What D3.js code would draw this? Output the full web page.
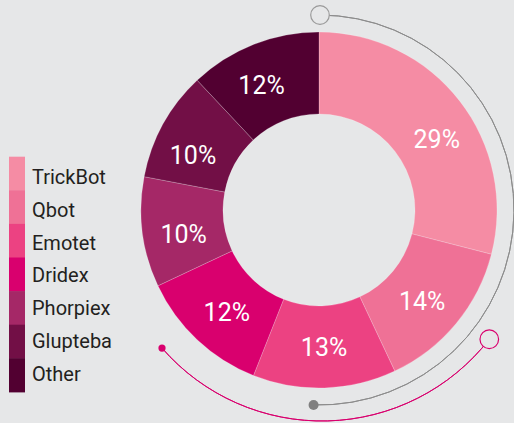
<!DOCTYPE html>
<html>
<head>
<meta charset="utf-8">
<script src="https://cdn.jsdelivr.net/npm/d3@7.9.0/dist/d3.min.js"></script>
<style>
  html, body { margin: 0; padding: 0; background: #e6e7e8; }
  svg { display: block; font-family: Roboto, "DejaVu Sans", sans-serif; }
</style>
</head>
<body>
<svg id="chart" width="514" height="423"></svg>
<script>
// chart data
const families = ['TrickBot', 'Qbot', 'Emotet', 'Dridex', 'Phorpiex', 'Glupteba', 'Other'];
const shares = [29, 14, 13, 12, 10, 10, 12];
const palette = ['#f58ca4', '#ef7196', '#ec4282', '#d9006e', '#a52867', '#720f46', '#520031'];

// small angular nudges (degrees) for the % labels, as placed in the original
const labelNudge = [6.7, 1.8, -0.3, -1.1, -2.8, -5.2, -3.1];

const cx = 319, cy = 210;
const rInner = 96, rOuter = 178, rLabel = 137.5;

const svg = d3.select('#chart');
const bg = '#e6e7e8';

const data = families.map((f, i) => ({ label: f, value: shares[i], nudge: labelNudge[i] }));
const color = d3.scaleOrdinal().domain(families).range(palette);

const pie = d3.pie().value(d => d.value).sort(null);
const arc = d3.arc().innerRadius(rInner).outerRadius(rOuter);

const deg = a => a * Math.PI / 180;
const pt = (r, a) => [r * Math.sin(a), -r * Math.cos(a)];

const g = svg.append('g').attr('transform', `translate(${cx},${cy})`);

const slices = pie(data);

g.selectAll('path.slice')
  .data(slices)
  .join('path')
  .attr('class', 'slice')
  .attr('d', arc)
  .attr('fill', d => color(d.data.label))
  .attr('stroke', 'rgba(255,255,255,0.35)')
  .attr('stroke-width', 0.6);

g.selectAll('text.pct')
  .data(slices)
  .join('text')
  .attr('class', 'pct')
  .attr('transform', d => {
    const a = (d.startAngle + d.endAngle) / 2 + deg(d.data.nudge);
    return `translate(${pt(rLabel, a)})`;
  })
  .attr('text-anchor', 'middle')
  .attr('dy', '0.36em')
  .attr('fill', '#fff')
  .attr('font-size', 25)
  .text(d => d.data.value + '%');

// decorative gray ring (top -> bottom, clockwise)
const grayR = 195;
const ring = d3.arc().innerRadius(grayR).outerRadius(grayR);
g.append('path')
  .attr('d', ring({ startAngle: 0, endAngle: deg(181.6) }))
  .attr('fill', 'none')
  .attr('stroke', '#8c8c8c')
  .attr('stroke-width', 1);

const [gx0, gy0] = pt(grayR, 0);
g.append('circle').attr('cx', gx0 + 1).attr('cy', gy0).attr('r', 9.3)
  .attr('fill', bg).attr('stroke', '#9a9a9a').attr('stroke-width', 1.2);
const [gx1, gy1] = pt(grayR, deg(181.6));
g.append('circle').attr('cx', gx1).attr('cy', gy1).attr('r', 5).attr('fill', '#808080');

// decorative pink ring
const pg = svg.append('g').attr('transform', `translate(${cx + 3},${cy - 1})`);
const pinkR = 212;
const pring = d3.arc().innerRadius(pinkR).outerRadius(pinkR);
pg.append('path')
  .attr('d', pring({ startAngle: deg(127.9), endAngle: deg(229) }))
  .attr('fill', 'none')
  .attr('stroke', '#d9006e')
  .attr('stroke-width', 1);
const [px0, py0] = pt(pinkR, deg(127.9));
pg.append('circle').attr('cx', px0).attr('cy', py0).attr('r', 9.3)
  .attr('fill', bg).attr('stroke', '#d9006e').attr('stroke-width', 1.2);
const [px1, py1] = pt(pinkR, deg(229));
pg.append('circle').attr('cx', px1).attr('cy', py1).attr('r', 3.6).attr('fill', '#d9006e');

// legend
const legTop = 156.7, rowH = 33.6;
const legend = svg.append('g');
const y = d3.scaleBand().domain(families).range([legTop, legTop + rowH * families.length]).padding(0);

legend.selectAll('rect')
  .data(families)
  .join('rect')
  .attr('x', 9)
  .attr('y', d => y(d))
  .attr('width', 16)
  .attr('height', y.bandwidth() + 0.5)
  .attr('fill', d => color(d));

// text rows sit a touch tighter than the swatches
legend.selectAll('text')
  .data(families)
  .join('text')
  .attr('x', 32)
  .attr('y', (d, i) => y(d) + y.bandwidth() / 2 + 3.2 - i * 0.7)
  .attr('dy', '0.35em')
  .attr('font-size', 20)
  .attr('fill', '#231f20')
  .text(d => d);
</script>
</body>
</html>
